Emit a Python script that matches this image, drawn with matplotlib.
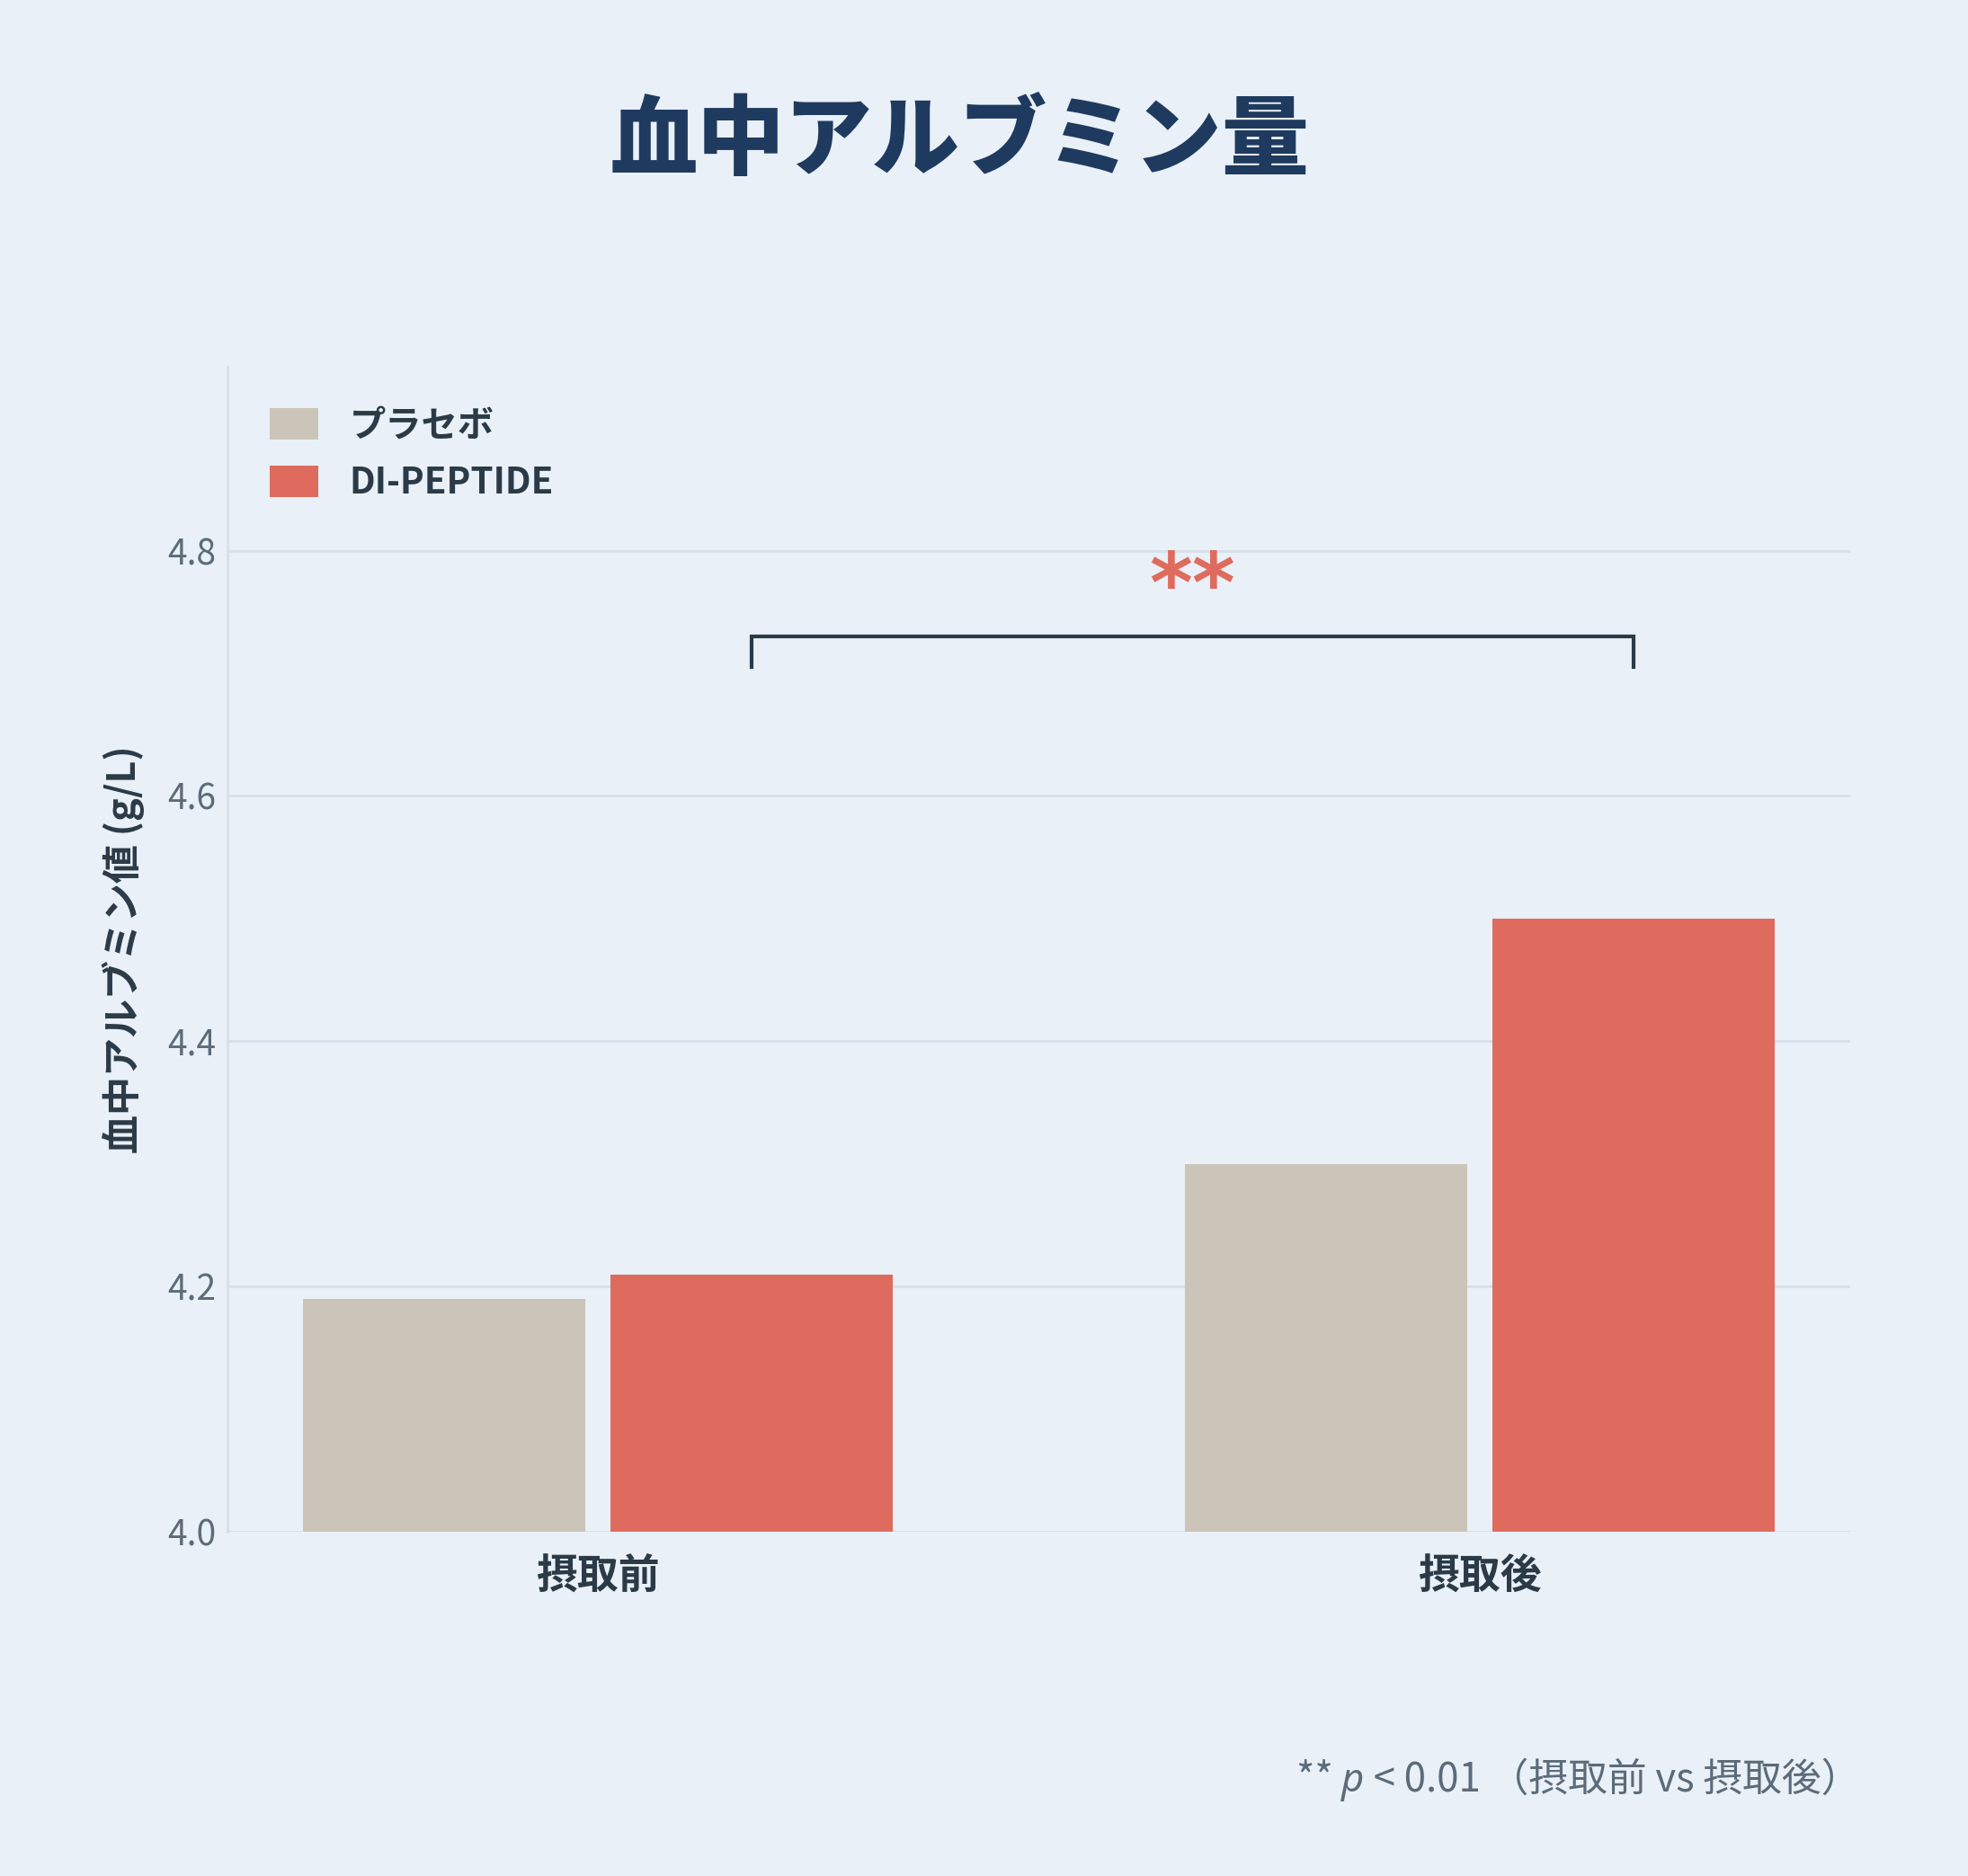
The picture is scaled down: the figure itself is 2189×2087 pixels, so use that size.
import matplotlib.pyplot as plt
import numpy as np

plt.rcParams['font.family'] = ['Noto Sans CJK JP', 'DejaVu Sans']

# データ
categories = ['摂取前', '摂取後']
series_names = ['プラセボ', 'DI-PEPTIDE']
placebo = [4.19, 4.30]
dipeptide = [4.21, 4.50]
sig_label = '**'
sig_y = 4.73
y_ticks = [4.0, 4.2, 4.4, 4.6, 4.8]

bg = '#e9f0f7'
c_placebo = '#cbc4b8'
c_di = '#df6b5e'
dark = '#2b3a47'
gray = '#5c6b79'
grid_c = '#d6e0ea'

fig = plt.figure(figsize=(21.89, 20.87), dpi=100, facecolor=bg)
ax = fig.add_axes([253 / 2189, 1 - 1704 / 2087, (2058 - 253) / 2189, (1704 - 408) / 2087])
ax.set_facecolor(bg)

x = np.arange(len(categories))
w = 0.32
off = 0.174
ax.bar(x - off, placebo, w, color=c_placebo, label=series_names[0], zorder=3)
ax.bar(x + off, dipeptide, w, color=c_di, label=series_names[1], zorder=3)

ax.set_ylim(4.0, 4.95)
ax.set_xlim(-0.42, 1.42)
ax.set_yticks(y_ticks)
ax.set_yticklabels([f'{t:.1f}' for t in y_ticks])
ax.set_xticks(x)
ax.set_xticklabels(categories, fontsize=33, fontweight='bold', color=dark)
ax.tick_params(axis='y', length=0, labelsize=28, labelcolor=gray, pad=9)
ax.tick_params(axis='x', length=0, pad=20)
ax.grid(axis='y', color=grid_c, linewidth=2, zorder=0)
for s in ['top', 'right', 'bottom']:
    ax.spines[s].set_visible(False)
ax.spines['left'].set_color(grid_c)
ax.spines['left'].set_linewidth(2)

ax.set_ylabel('血中アルブミン値 (g/L)', fontsize=31, fontweight='bold', color=dark, labelpad=18)

# 有意差ブラケット
x0, x1 = x[0] + off, x[1] + off
ax.plot([x0, x0, x1, x1], [sig_y - 0.025, sig_y, sig_y, sig_y - 0.025],
        color=dark, linewidth=3, zorder=4, solid_joinstyle='miter')
ax.text((x0 + x1) / 2, sig_y + 0.020, sig_label, ha='center', va='baseline',
        fontsize=66, fontweight='bold', color=c_di, family='DejaVu Sans')

leg = ax.legend(loc='upper left', bbox_to_anchor=(0.006, 0.993), frameon=False,
                prop={'size': 29, 'weight': 'bold'}, handlelength=1.35,
                handleheight=0.94, handletextpad=0.84, labelspacing=0.57)
for t in leg.get_texts():
    t.set_color(dark)

fig.text(1068 / 2189, 1 - 158 / 2087, '血中アルブミン量', ha='center', va='center',
         fontsize=70, fontweight='black', color='#1f3a5f')

# 脚注
fs = 31.5
yb = 1 - 1993 / 2087
t3 = fig.text(2069 / 2189, yb, ' < 0.01 （摂取前 vs 摂取後）', ha='right', va='baseline',
              fontsize=fs, color=gray)
t2 = fig.text(0, yb, 'p', ha='right', va='baseline', fontsize=fs, color=gray,
              family=['Noto Sans', 'DejaVu Sans'], style='italic')
fig.canvas.draw()
bb3 = t3.get_window_extent()
t2.set_x(bb3.x0 / fig.bbox.width)
bb2 = t2.get_window_extent()
fig.text(bb2.x0 / fig.bbox.width, yb, '** ', ha='right', va='baseline',
         fontsize=fs, color=gray)

fig.savefig('out.png', dpi=100, facecolor=bg)
